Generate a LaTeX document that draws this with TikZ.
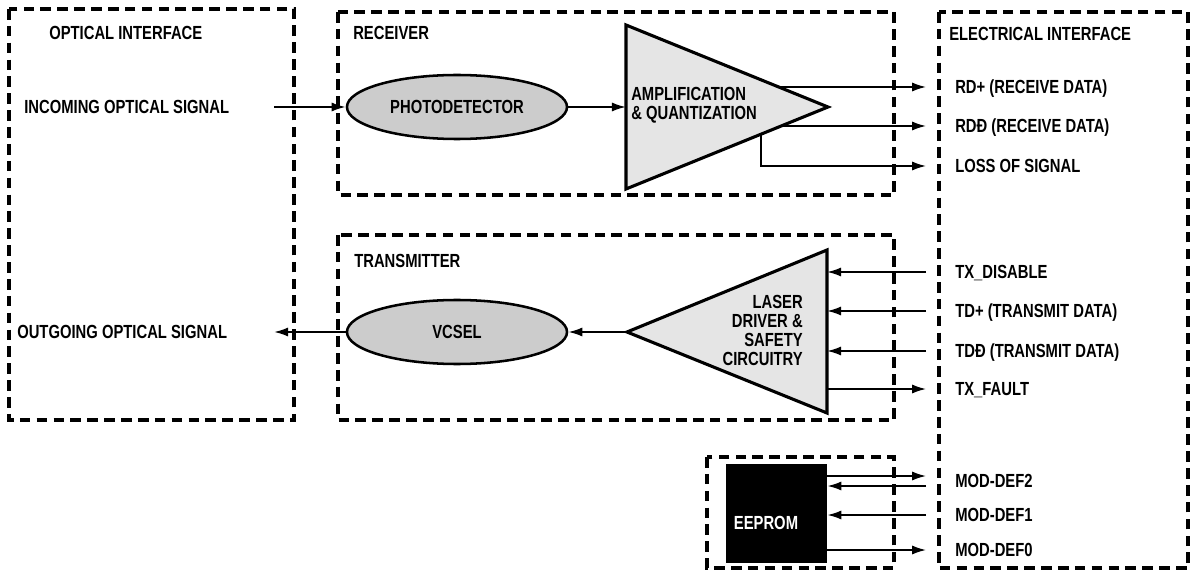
\documentclass[tikz,border=0pt]{standalone}
\usepackage{fontspec}
\setmainfont{Liberation Sans}[FakeStretch=0.78]
\usetikzlibrary{shapes, arrows.meta, positioning, calc}

\begin{document}
\begin{tikzpicture}[x=0.025cm, y=-0.025cm,
	every node/.style={font=\fontsize{13.5}{13.5}\selectfont\bfseries, inner sep=0pt},
	box/.style={draw, line width=2.6pt, dash pattern=on 7.5pt off 4.5pt},
	lbl/.style={anchor=west, text height=9.6pt, text depth=0pt},
	blob/.style={draw, ellipse, fill=black!20, line width=1.8pt, minimum width=5.5cm, minimum height=1.6cm},
	amp/.style={draw, fill=black!10, line width=2.2pt, line join=miter},
	sig/.style={line width=1.4pt, -{Latex[length=10pt,width=6.5pt]}},
	toel/.style={sig, shorten >=0.72cm},
	fromel/.style={sig, shorten <=0.72cm}]
	\useasboundingbox (0,0) rectangle (1192,571);
	% dashed blocks
	\draw[box] (9,9) rectangle (294,420);
	\draw[box] (338,12) rectangle (894,195);
	\draw[box] (338,235) rectangle (894,420);
	\draw[box] (939,12) rectangle (1188,568);
	\draw[box] (707,457) rectangle (894,568);

	\node[lbl] (optical) at (49,33) {OPTICAL INTERFACE};
	\node[lbl] (receiver) at (353,33) {RECEIVER};
	\node[lbl] (transmitter) at (354,261) {TRANSMITTER};
	\node[lbl] (electrical) at (949,34) {ELECTRICAL INTERFACE};

	\node[lbl] (incoming) at (24,107) {INCOMING OPTICAL SIGNAL};
	\node[lbl] (outgoing) at (17,332) {OUTGOING OPTICAL SIGNAL};
	\coordinate (inbeam) at (274,107);
	\coordinate (outbeam) at (274,332);

	\node[blob] (pd) at (457,107) {PHOTODETECTOR};
	\node[blob] (vcsel) at (457,332) {VCSEL};

	% electrical pins
	\node[lbl] (rdp) at (955,87) {RD+ (RECEIVE DATA)};
	\node[lbl] (rdm) at (955,126) {RDĐ (RECEIVE DATA)};
	\node[lbl] (los) at (955,166) {LOSS OF SIGNAL};
	\node[lbl] (txdis) at (955,272) {TX\_DISABLE};
	\node[lbl] (tdp) at (955,311) {TD+ (TRANSMIT DATA)};
	\node[lbl] (tdm) at (955,351) {TDĐ (TRANSMIT DATA)};
	\node[lbl] (txf) at (955,389) {TX\_FAULT};
	\node[lbl] (md2) at (955,481) {MOD-DEF2};
	\node[lbl] (md1) at (955,515) {MOD-DEF1};
	\node[lbl] (md0) at (955,550) {MOD-DEF0};

	% receiver
	\coordinate (amptop) at (626,25);
	\coordinate (ampbot) at (626,189);
	\coordinate (amptip) at (828,107);
	\coordinate (losstap) at (761,120);
	\draw[toel] (amptop |- rdp.west) -- (rdp.west);
	\draw[toel] (amptop |- rdm.west) -- (rdm.west);
	\draw[toel] (losstap) |- (los.west);
	\filldraw[amp] (amptop) -- (amptip) -- (ampbot) -- cycle;
	\node[anchor=west, align=left] (amptext) at (631,105) {AMPLIFICATION\\\& QUANTIZATION};
	\draw[sig] (inbeam) -- (pd.west);
	\draw[sig] (pd.east) -- (pd.east -| amptop);

	% transmitter
	\coordinate (drvtip) at (627,332);
	\coordinate (drvtop) at (827,250);
	\coordinate (drvbot) at (827,413);
	\filldraw[amp] (drvtip) -- (drvtop) -- (drvbot) -- cycle;
	\node[anchor=east, align=right] (drvtext) at (803,330) {LASER\\DRIVER \&\\SAFETY\\CIRCUITRY};
	\draw[fromel] (txdis.west) -- (drvtop |- txdis.west);
	\draw[fromel] (tdp.west) -- (drvtop |- tdp.west);
	\draw[fromel] (tdm.west) -- (drvtop |- tdm.west);
	\draw[toel] (drvtop |- txf.west) -- (txf.west);
	\draw[sig] (drvtip) -- (vcsel.east);
	\draw[sig] (vcsel.west) -- (outbeam);

	% eeprom
	\node[fill=black, minimum width=2.525cm, minimum height=2.475cm] (eeprom) at (776.5,513.5) {};
	\node[text=white] (eepromtext) at (766,523) {EEPROM};
	\draw[toel] ($(eeprom.east |- md2.west)+(0,-5)$) -- ($(md2.west)+(0,-5)$);
	\draw[fromel] ($(md2.west)+(0,5)$) -- ($(eeprom.east |- md2.west)+(0,5)$);
	\draw[fromel] (md1.west) -- (eeprom.east |- md1.west);
	\draw[toel] (eeprom.east |- md0.west) -- (md0.west);
\end{tikzpicture}
\end{document}
